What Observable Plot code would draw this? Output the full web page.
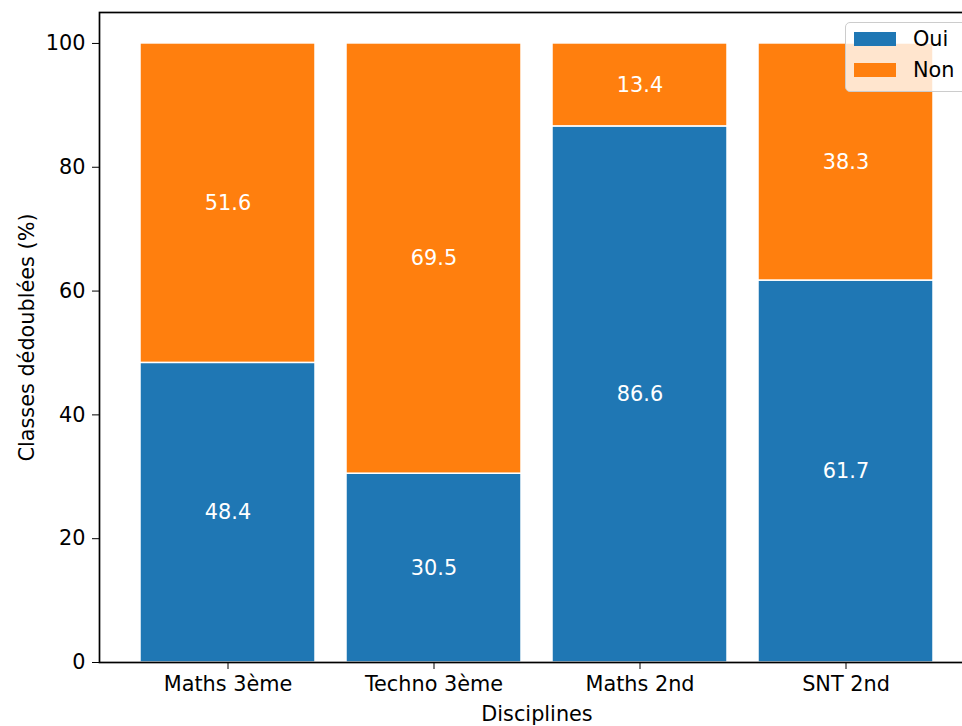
<!DOCTYPE html>
<html>
<head>
<meta charset="utf-8">
<script src="https://cdn.jsdelivr.net/npm/d3@7"></script>
<script src="https://cdn.jsdelivr.net/npm/@observablehq/plot@0.6"></script>
<style>
  html, body { margin: 0; padding: 0; background: white; overflow: hidden; }
  #wrap { position: relative; width: 962px; height: 726px; overflow: hidden; font-family: "DejaVu Sans", sans-serif; }
  #wrap svg { max-width: none !important; width: 980px; height: 726px; display: block; }
  #legend { position: absolute; left: 845px; top: 22px; width: 122px; height: 70px;
            background: rgba(255,255,255,0.8); border: 1px solid #cccccc; border-radius: 5px; box-sizing: border-box; }
  .row { position: absolute; left: 8px; display: flex; align-items: center; font-size: 20.8px; color: black; }
  .sw { width: 42px; height: 14px; margin-right: 17px; }
</style>
</head>
<body>
<div id="wrap"></div>
<script>
const disciplines = ["Maths 3ème", "Techno 3ème", "Maths 2nd", "SNT 2nd"];
const oui = [48.4, 30.5, 86.6, 61.7];
const non = [51.6, 69.5, 13.4, 38.3];
const responses = ["Oui", "Non"];
const colors = ["#1f77b4", "#ff7f0e"];
const yTicks = [0, 20, 40, 60, 80, 100];

const data = disciplines.flatMap((d, i) => [
  {discipline: d, reponse: "Oui", value: oui[i]},
  {discipline: d, reponse: "Non", value: non[i]}
]);

const chart = Plot.plot({
  width: 980,
  height: 726,
  marginLeft: 99,
  marginRight: 6,
  marginTop: 12,
  marginBottom: 64,
  style: {fontFamily: "DejaVu Sans", fontSize: "20.8px", background: "white", color: "black", maxWidth: "none"},
  x: {domain: disciplines, paddingInner: 0.15, paddingOuter: 0.1925},
  y: {domain: [0, 105]},
  color: {domain: responses, range: colors},
  marks: [
    Plot.barY(data, {x: "discipline", y: "value", fill: "reponse", order: responses, stroke: "white", strokeWidth: 1.5}),
    Plot.text(data, Plot.stackY({x: "discipline", y: "value", z: "reponse", order: responses,
      text: d => d.value.toFixed(1), fill: "white", fontSize: 20.8})),
    Plot.frame({strokeWidth: 1.7}),
    Plot.axisX({tickSize: 7, tickPadding: 7, label: "Disciplines", labelAnchor: "center", labelOffset: 58, labelArrow: "none"}),
    Plot.axisY({ticks: yTicks, tickSize: 7, tickPadding: 7, tickFormat: d => String(d), label: "Classes dédoublées (%)", labelAnchor: "center", labelOffset: 80, labelArrow: "none"})
  ]
});

const wrap = document.getElementById("wrap");
wrap.appendChild(chart);

const legend = document.createElement("div");
legend.id = "legend";
responses.forEach((r, i) => {
  const row = document.createElement("div");
  row.className = "row";
  row.style.top = (4 + i * 31) + "px";
  const sw = document.createElement("div");
  sw.className = "sw";
  sw.style.background = colors[i];
  row.appendChild(sw);
  const t = document.createElement("span");
  t.textContent = r;
  row.appendChild(t);
  legend.appendChild(row);
});
wrap.appendChild(legend);
</script>
</body>
</html>
